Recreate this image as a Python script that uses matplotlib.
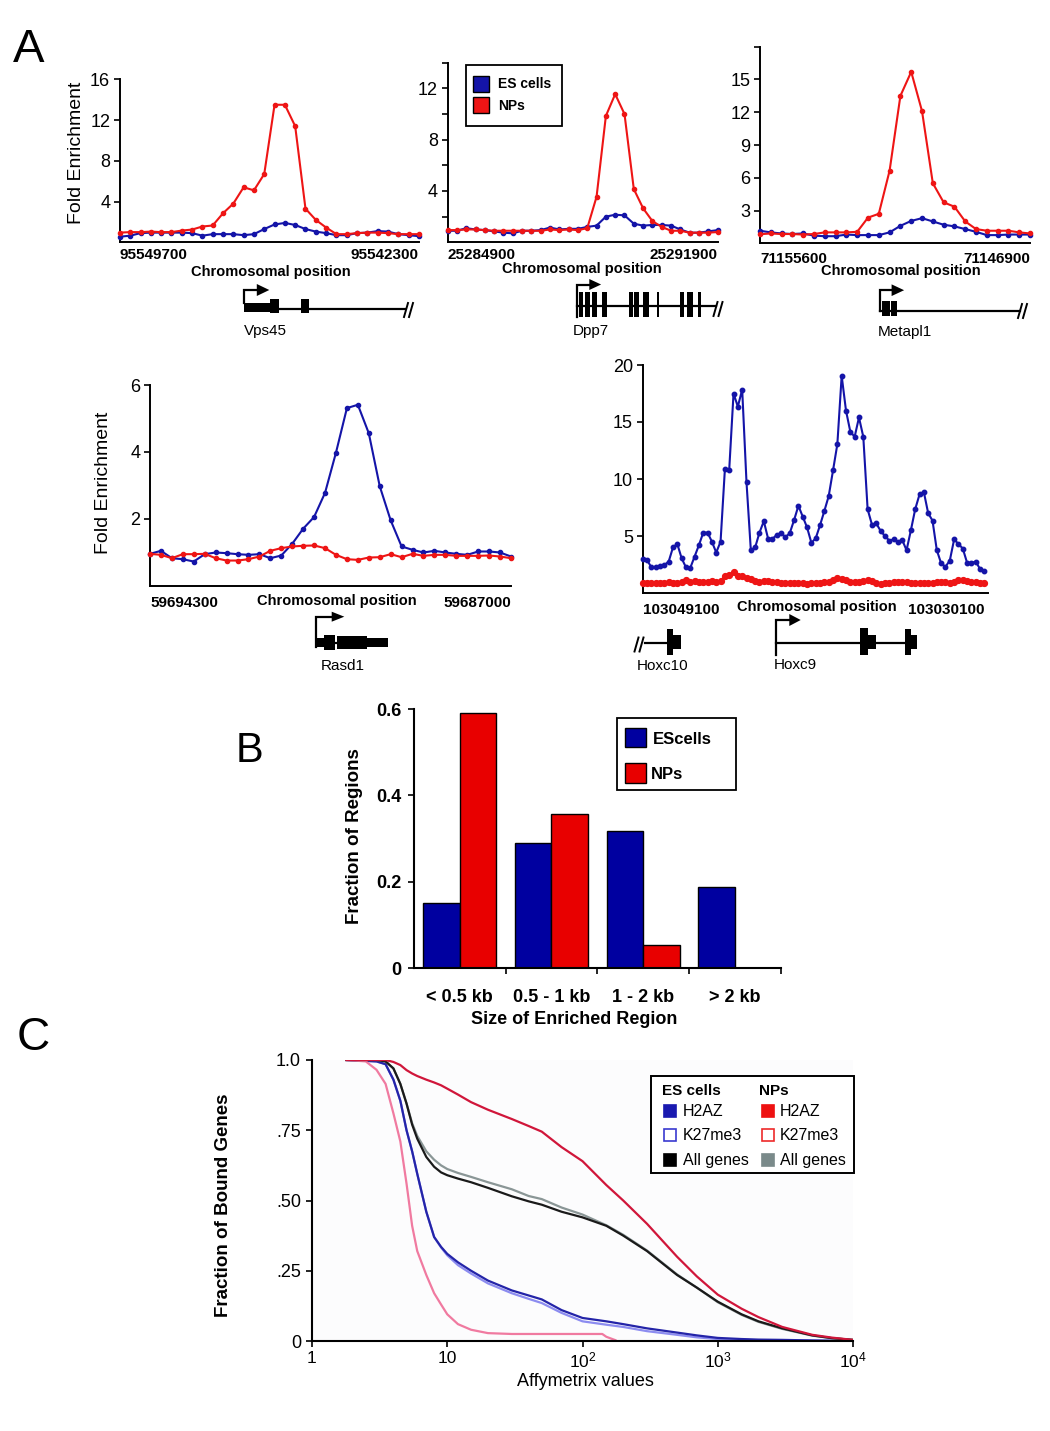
import numpy as np
import matplotlib
matplotlib.use("Agg")
import matplotlib.pyplot as plt
from matplotlib.patches import Rectangle, Polygon

# ---------------- data ----------------
# A: fold enrichment along each locus (one value per probe)
vps45_es = [0.55, 0.65, 0.9, 0.95, 0.95, 0.95, 0.95, 0.9, 0.65, 0.8, 0.8, 0.8, 0.7, 0.8, 1.3,
            1.75, 1.9, 1.7, 1.3, 1.05, 0.9, 0.7, 0.7, 0.9, 0.95, 1.1, 1.05, 0.8, 0.7, 0.6]
vps45_np = [0.95, 1.0, 1.0, 1.05, 1.0, 1.0, 1.15, 1.25, 1.55, 1.65, 2.85, 3.8, 5.4, 5.1, 6.7,
            13.5, 13.5, 11.4, 3.3, 2.2, 1.45, 0.8, 0.8, 0.9, 0.95, 0.95, 0.9, 0.8, 0.8, 0.8]

dpp7_es = [0.9, 0.9, 1.1, 1.0, 0.95, 0.85, 0.75, 0.7, 0.9, 0.9, 0.95, 1.15, 1.0, 1.05, 1.05,
           1.2, 1.3, 2.0, 2.15, 2.1, 1.45, 1.3, 1.35, 1.35, 1.3, 1.0, 0.75, 0.75, 0.85, 0.95]
dpp7_np = [0.95, 0.95, 1.0, 1.0, 0.95, 0.9, 0.9, 0.9, 0.9, 0.9, 0.9, 1.0, 0.95, 1.0, 0.95,
           1.1, 3.55, 9.85, 11.55, 10.0, 4.15, 2.65, 1.65, 1.2, 0.9, 0.9, 0.75, 0.75, 0.75, 0.8]

metapl1_es = [1.15, 1.0, 0.9, 0.85, 0.9, 0.7, 0.65, 0.65, 0.8, 0.75, 0.75, 0.75, 1.0, 1.6,
              2.05, 2.3, 2.0, 1.7, 1.55, 1.3, 1.05, 0.75, 0.75, 0.8, 0.8, 0.8]
metapl1_np = [0.83, 0.9, 0.85, 0.85, 0.8, 0.85, 1.0, 1.0, 1.0, 1.05, 2.35, 2.7, 6.65, 13.5,
              15.7, 12.1, 5.5, 3.75, 3.35, 2.0, 1.3, 1.15, 1.15, 1.15, 1.0, 0.9]

rasd1_es = [0.96, 1.05, 0.83, 0.8, 0.73, 0.95, 1.0, 0.98, 0.95, 0.93, 0.95, 0.83, 0.91, 1.26,
            1.71, 2.06, 2.78, 3.98, 5.31, 5.41, 4.56, 2.98, 1.96, 1.18, 1.08, 1.0, 1.05, 1.0,
            0.96, 0.93, 1.03, 1.03, 1.0, 0.88]
rasd1_np = [0.96, 0.93, 0.83, 0.95, 0.95, 0.96, 0.83, 0.76, 0.76, 0.8, 0.88, 1.05, 1.13, 1.18,
            1.2, 1.21, 1.13, 0.93, 0.8, 0.78, 0.85, 0.86, 0.95, 0.86, 0.96, 0.9, 0.93, 0.93,
            0.9, 0.9, 0.9, 0.91, 0.88, 0.83]

hoxc_es = [3.0, 2.9, 2.25, 2.3, 2.35, 2.45, 2.75, 4.0, 4.3, 3.05,
           2.25, 2.2, 3.2, 4.2, 5.3, 5.3, 4.5, 3.55, 4.5, 10.85,
           10.8, 17.5, 16.35, 17.85, 9.7, 3.75, 4.0, 5.3, 6.3, 4.75,
           4.75, 5.1, 5.25, 4.9, 5.25, 6.4, 7.65, 6.7, 5.75, 4.4,
           4.8, 5.95, 7.2, 8.5, 10.75, 13.05, 19.05, 16.0, 14.15, 13.7,
           15.4, 13.7, 7.35, 6.0, 6.1, 5.45, 5.0, 4.6, 4.7, 4.5,
           4.65, 3.75, 5.5, 7.35, 8.65, 8.85, 7.0, 6.35, 3.75, 2.6,
           2.3, 2.85, 4.7, 4.3, 3.9, 2.65, 2.65, 2.75, 2.1, 1.95]
hoxc_np = [0.9, 0.85, 0.85, 0.9, 0.9, 0.9, 0.95, 0.9, 0.9, 0.95,
           1.1, 1.0, 1.05, 1.0, 0.95, 1.0, 1.05, 1.0, 1.05, 1.5,
           1.6, 1.8, 1.5, 1.45, 1.35, 1.2, 1.05, 1.0, 1.05, 1.05,
           1.0, 0.95, 0.9, 0.85, 0.85, 0.85, 0.85, 0.85, 0.8, 0.85,
           0.9, 0.9, 0.95, 1.0, 1.1, 1.3, 1.25, 1.15, 1.0, 0.95,
           0.95, 1.05, 1.1, 1.05, 0.85, 0.8, 0.85, 0.9, 0.95, 0.95,
           0.95, 0.95, 0.9, 0.9, 0.85, 0.85, 0.9, 0.9, 0.95, 0.95,
           0.95, 0.9, 1.0, 1.1, 1.1, 1.05, 0.95, 0.95, 0.9, 0.9]

# B: size distribution of enriched regions
size_cats = ['< 0.5 kb', '0.5 - 1 kb', '1 - 2 kb', '> 2 kb']
es_frac = [0.15, 0.291, 0.318, 0.189]
np_frac = [0.59, 0.356, 0.054, 0.0]

# C: fraction of bound genes above a given Affymetrix value
affy_x = [1.8, 3, 3.5, 4, 4.5, 5, 5.5, 6, 7, 8, 9, 10, 12, 15, 20, 30, 40, 50, 70, 100,
          150, 200, 300, 500, 700, 1000, 1500, 2000, 3000, 5000, 7000, 10000]
es_h2az = [1.0, 0.995, 0.985, 0.93, 0.855, 0.75, 0.675, 0.595, 0.46, 0.37, 0.335, 0.31, 0.28,
           0.25, 0.215, 0.18, 0.162, 0.148, 0.11, 0.082, 0.07, 0.06, 0.045, 0.03, 0.02,
           0.011, 0.007, 0.005, 0.004, 0.002, 0.001, 0.0]
es_k27 = [1.0, 0.995, 0.985, 0.93, 0.855, 0.75, 0.675, 0.595, 0.46, 0.37, 0.333, 0.305, 0.27,
          0.24, 0.205, 0.17, 0.15, 0.135, 0.1, 0.07, 0.058, 0.05, 0.035, 0.022, 0.013,
          0.007, 0.004, 0.003, 0.002, 0.001, 0.0005, 0.0]
es_all = [1.0, 1.0, 0.995, 0.97, 0.915, 0.845, 0.77, 0.72, 0.655, 0.62, 0.60, 0.59, 0.578,
          0.565, 0.545, 0.515, 0.497, 0.485, 0.46, 0.44, 0.41, 0.375, 0.32, 0.235, 0.19,
          0.14, 0.095, 0.07, 0.045, 0.02, 0.01, 0.004]
np_all = [1.0, 1.0, 0.995, 0.97, 0.915, 0.845, 0.775, 0.73, 0.675, 0.645, 0.625, 0.612, 0.598,
          0.584, 0.565, 0.54, 0.516, 0.505, 0.475, 0.45, 0.412, 0.378, 0.322, 0.237, 0.19,
          0.138, 0.093, 0.068, 0.043, 0.019, 0.01, 0.004]
np_h2az = [1.0, 1.0, 1.0, 0.993, 0.982, 0.964, 0.952, 0.943, 0.93, 0.92, 0.91, 0.898, 0.877,
           0.85, 0.823, 0.79, 0.765, 0.745, 0.69, 0.64, 0.555, 0.50, 0.417, 0.30, 0.23,
           0.165, 0.115, 0.085, 0.05, 0.022, 0.012, 0.004]
np_k27_x = [1.8, 2.5, 3, 3.5, 4, 4.5, 5, 5.5, 6, 7, 8, 9, 10, 12, 15, 20, 30, 60, 120, 140,
            150, 175]
np_k27 = [1.0, 0.995, 0.965, 0.915, 0.81, 0.71, 0.56, 0.41, 0.32, 0.235, 0.17, 0.13, 0.095,
          0.06, 0.04, 0.028, 0.025, 0.025, 0.025, 0.025, 0.015, 0.003]

# ---------------- style ----------------
W, H = 1050, 1431
NARROW = ['Liberation Sans Narrow', 'Liberation Sans', 'DejaVu Sans']
ARIAL = ['Liberation Sans', 'DejaVu Sans']
plt.rcParams['font.family'] = NARROW

ES_BLUE = '#1414a8'
NP_RED = '#ee1515'

fig = plt.figure(figsize=(W / 100, H / 100), dpi=100)


def px_axes(x0, ytop, x1, ybot):
    return fig.add_axes([x0 / W, 1 - ybot / H, (x1 - x0) / W, (ybot - ytop) / H])


def clean(ax, lw=1.4):
    for s in ('top', 'right'):
        ax.spines[s].set_visible(False)
    for s in ('left', 'bottom'):
        ax.spines[s].set_linewidth(lw)
        ax.spines[s].set_color('black')
    ax.patch.set_alpha(0)


def profile(box, es, nps, ylim, yticks, ylabels, ends, pad, xlab_at, fold_at=None,
            ms=3.0, ms_np=3.0, xmax=None):
    ax = px_axes(*box)
    ax.plot(np.arange(len(es)), es, '-o', color=ES_BLUE, lw=1.5, ms=ms, clip_on=False, zorder=3)
    ax.plot(np.arange(len(nps)), nps, '-o', color=NP_RED, lw=1.5, ms=ms_np, clip_on=False, zorder=3)
    n = len(es) - 1
    ax.set_xlim(0, xmax if xmax else n)
    ax.set_ylim(*ylim)
    ax.set_yticks(yticks, labels=ylabels, fontsize=13)
    ax.set_xticks([0, n], labels=ends, fontsize=11, fontweight='bold', family=ARIAL)
    tl = ax.get_xticklabels()
    tl[0].set_ha('left')
    tl[1].set_ha('right')
    ax.tick_params(axis='x', length=0, pad=pad)
    ax.tick_params(axis='y', direction='out', length=4, width=1.2, pad=3)
    ax.set_xlabel('Chromosomal position', fontsize=10.5, fontweight='bold', family=ARIAL,
                  va='center')
    ax.xaxis.set_label_coords(*xlab_at)
    if fold_at:
        ax.set_ylabel('Fold Enrichment', fontsize=14, family=ARIAL, va='center')
        ax.yaxis.set_label_coords(*fold_at)
    clean(ax)
    return ax


# ---------------- A ----------------
profile((119.9, 79.3, 418.9, 242.3), vps45_es, vps45_np, (0, 16), [4, 8, 12, 16],
        ['4', '8', '12', '16'], ['95549700', '95542300'], 4, (0.504, -0.185),
        fold_at=(-0.1435, 0.546))
profile((447.6, 62.7, 717.6, 242.3), dpp7_es, dpp7_np, (0, 14), [2, 4, 6, 8, 10, 12, 14],
        ['', '4', '', '8', '', '12', ''], ['25284900', '25291900'], 4, (0.498, -0.15))
profile((759.9, 46.7, 1030.1, 243.3), metapl1_es, metapl1_np, (0, 18), [3, 6, 9, 12, 15, 18],
        ['3', '6', '9', '12', '15', ''], ['71155600', '71146900'], 6, (0.52, -0.14))
profile((150, 385, 511, 586), rasd1_es, rasd1_np, (0, 6), [2, 4, 6], ['2', '4', '6'],
        ['59694300', '59687000'], 7, (0.517, -0.073), fold_at=(-0.129, 0.511))
profile((642.7, 365, 988.3, 593), hoxc_es, hoxc_np, (0, 20), [5, 10, 15, 20],
        ['5', '10', '15', '20'], ['103049100', '103030100'], 7, (0.503, -0.061),
        ms=3.2, ms_np=4.2, xmax=79.9)

# ---------------- B ----------------
axb = px_axes(413.7, 709, 781, 968.3)
pos = np.arange(len(size_cats))
axb.bar(pos - 0.2, es_frac, 0.4, color='#0000a0', edgecolor='black', lw=1)
axb.bar(pos + 0.2, np_frac, 0.4, color='#e80000', edgecolor='black', lw=1)
axb.set_xlim(-0.5, 3.5)
axb.set_ylim(0, 0.6)
axb.set_yticks([0, 0.2, 0.4, 0.6], labels=['0', '0.2', '0.4', '0.6'], fontsize=13,
               fontweight='bold', family=ARIAL)
axb.set_xticks([0.5, 1.5, 2.5, 3.5], labels=['', '', '', ''])
axb.set_xticks(pos, labels=size_cats, minor=True, fontsize=13, fontweight='bold', family=ARIAL)
axb.tick_params(axis='x', which='major', direction='out', length=4, width=1.2)
axb.tick_params(axis='x', which='minor', length=0, pad=15)
axb.tick_params(axis='y', direction='out', length=4, width=1.2, pad=5)
axb.set_xlabel('Size of Enriched Region', fontsize=13, fontweight='bold', family=ARIAL,
               va='center')
axb.xaxis.set_label_coords(0.436, -0.199)
axb.set_ylabel('Fraction of Regions', fontsize=13.5, fontweight='bold', family=ARIAL,
               va='center')
axb.yaxis.set_label_coords(-0.162, 0.511)
clean(axb, 1.5)

# ---------------- C ----------------
axc = px_axes(312, 1060, 853, 1341)
axc.plot(affy_x, es_k27, color='#8c8cf0', lw=1.6)
axc.plot(affy_x, es_h2az, color='#2424a8', lw=1.6)
axc.plot(np_k27_x, np_k27, color='#f07aa0', lw=1.6)
axc.plot(affy_x, np_all, color='#8a9696', lw=1.6)
axc.plot(affy_x, es_all, color='#1a1a1a', lw=1.6)
axc.plot(affy_x, np_h2az, color='#d0163a', lw=1.6)
axc.set_xscale('log')
axc.set_xlim(1, 1e4)
axc.set_ylim(0, 1)
axc.set_xticks([1, 10, 100, 1000, 10000],
               labels=['1', '10', r'$\mathregular{10^2}$', r'$\mathregular{10^3}$',
                       r'$\mathregular{10^4}$'], fontsize=12.5)
axc.xaxis.set_minor_locator(matplotlib.ticker.NullLocator())
axc.set_yticks([0, 0.25, 0.5, 0.75, 1.0], labels=['0', '.25', '.50', '.75', '1.0'], fontsize=13)
axc.tick_params(axis='x', direction='out', length=4, width=1.2, pad=3)
axc.tick_params(axis='y', direction='out', length=4, width=1.2, pad=4)
axc.set_xlabel('Affymetrix values', fontsize=13, family=ARIAL, va='center')
axc.xaxis.set_label_coords(0.506, -0.145)
axc.set_ylabel('Fraction of Bound Genes', fontsize=13.5, fontweight='bold', family=ARIAL,
               va='center')
axc.yaxis.set_label_coords(-0.1636, 0.484)
clean(axc, 1.5)
axc.patch.set_alpha(1)
axc.set_facecolor('#fcfcfd')

# ---------------- overlay: letters, legends, gene models ----------------
ov = fig.add_axes([0, 0, 1, 1])
ov.set_xlim(0, W)
ov.set_ylim(H, 0)
ov.axis('off')


def exon(x0, x1, y0, y1):
    ov.add_patch(Rectangle((x0, y0), x1 - x0, y1 - y0, color='black', lw=0))


def intron(x0, x1, y):
    ov.plot([x0, x1], [y, y], color='black', lw=1.6)


def tss(x, y_low, y_arr, hx0, hx1, hh):
    ov.plot([x, x, hx0], [y_low, y_arr, y_arr], color='black', lw=1.6,
            solid_joinstyle='miter')
    ov.add_patch(Polygon([[hx0, y_arr - hh / 2], [hx1, y_arr], [hx0, y_arr + hh / 2]],
                         closed=True, color='black', lw=0))


def brk(x, y):
    for dx in (-3, 2):
        ov.plot([x + dx - 2, x + dx + 2], [y + 7, y - 7], color='black', lw=1.4)


def gene_name(x, y, s):
    ov.text(x, y, s, fontsize=11, family=ARIAL, ha='center', va='center')


# panel letters
ov.text(28.5, 62, 'A', fontsize=34, family=ARIAL, ha='center', va='baseline')
ov.text(249.6, 761.7, 'B', fontsize=30, family=ARIAL, ha='center', va='baseline')
ov.text(33.5, 1050, 'C', fontsize=33, family=ARIAL, ha='center', va='baseline')

# Vps45
tss(243.9, 303.3, 290, 256.8, 269.3, 12)
exon(243.9, 270.3, 303.3, 311.7)
exon(270.3, 278.7, 299, 312.7)
intron(278.7, 405, 309)
exon(300.7, 309.1, 299, 312.7)
brk(409, 310)
gene_name(265, 331, 'Vps45')

# Dpp7
tss(576.8, 316.7, 284.5, 589.3, 601.1, 11)
intron(576.8, 716, 305.7)
for a, b in [(579.1, 582.5), (585.2, 589.9), (592, 597), (601.8, 607.2), (628.8, 632.5),
             (634.2, 638.9), (643.3, 649.1), (656.8, 658.9), (679.5, 684.2), (686.6, 693.3),
             (698, 700.7)]:
    exon(a, b, 291.7, 317)
brk(718.5, 309)
gene_name(591, 330.7, 'Dpp7')

# Metapl1
tss(879.8, 311, 290.2, 891.6, 904.1, 11.7)
exon(882, 889.5, 301, 316)
exon(890.8, 897.4, 301, 316)
intron(879.8, 1020, 310.7)
brk(1023, 311)
gene_name(905, 331.7, 'Metapl1')

# Rasd1
tss(315.7, 646.7, 616.7, 331.7, 344.3, 10)
exon(315.7, 325, 637.7, 647.3)
exon(324, 335, 635, 650)
intron(335, 337.3, 642.7)
exon(337.3, 366.7, 636, 649.3)
exon(366.7, 388.3, 637.7, 646.7)
gene_name(342.7, 666, 'Rasd1')

# Hoxc10 / Hoxc9
brk(639.5, 644.5)
intron(645, 667.3, 642.7)
exon(667.3, 673.3, 629.3, 655)
exon(673.3, 680.7, 635, 649.3)
gene_name(663, 666, 'Hoxc10')
tss(775.7, 655, 620, 789.3, 800.7, 12)
intron(775.7, 905, 642.7)
exon(860, 868.3, 628.3, 655)
exon(868.3, 876, 635, 649.3)
exon(905, 910.7, 629.3, 655)
exon(910.7, 917.3, 635, 649.3)
gene_name(795.7, 665, 'Hoxc9')

# legend A
ov.add_patch(Rectangle((465.5, 65), 96.1, 60.7, fill=False, ec='black', lw=1.3))
ov.add_patch(Rectangle((473, 75.7), 16, 16.6, fc=ES_BLUE, ec='black', lw=1))
ov.add_patch(Rectangle((473, 97.3), 16, 16, fc=NP_RED, ec='black', lw=1))
ov.text(498.3, 83.5, 'ES cells', fontsize=10, fontweight='bold', family=ARIAL, va='center')
ov.text(498.3, 106, 'NPs', fontsize=10, fontweight='bold', family=ARIAL, va='center')

# legend B
ov.add_patch(Rectangle((617, 718), 119, 72, fill=False, ec='black', lw=1.3))
ov.add_patch(Rectangle((625, 727.7), 21, 19.6, fc='#0000a0', ec='black', lw=1))
ov.add_patch(Rectangle((625, 762.7), 21, 20, fc='#e80000', ec='black', lw=1))
ov.text(653, 740, 'EScells', fontsize=12, fontweight='bold', family=ARIAL, va='center')
ov.text(651, 774.5, 'NPs', fontsize=12, fontweight='bold', family=ARIAL, va='center')

# legend C
ov.add_patch(Rectangle((650.9, 1076), 202.9, 96.7, fc='white', ec='black', lw=1.4))
ov.text(661.5, 1091, 'ES cells', fontsize=11, fontweight='bold', family=ARIAL, va='center')
ov.text(758.5, 1091, 'NPs', fontsize=11, fontweight='bold', family=ARIAL, va='center')
rows = [(1111, 'H2AZ'), (1135, 'K27me3'), (1159.5, 'All genes')]
es_boxes = [dict(fc='#1a1ab0', ec='#1a1ab0'), dict(fc='white', ec='#3a3ad0'),
            dict(fc='black', ec='black')]
np_boxes = [dict(fc='#ee1111', ec='#ee1111'), dict(fc='white', ec='#ee2a2a'),
            dict(fc='#7a8a8a', ec='#7a8a8a')]
for (yy, lab), eb, nb in zip(rows, es_boxes, np_boxes):
    ov.add_patch(Rectangle((664, yy - 6), 12, 12, lw=1.2, **eb))
    ov.add_patch(Rectangle((761.5, yy - 6), 12, 12, lw=1.2, **nb))
    ov.text(683, yy + 0.5, lab, fontsize=11.5, family=ARIAL, va='center')
    ov.text(780, yy + 0.5, lab, fontsize=11.5, family=ARIAL, va='center')

fig.savefig('out.png', dpi=100)
